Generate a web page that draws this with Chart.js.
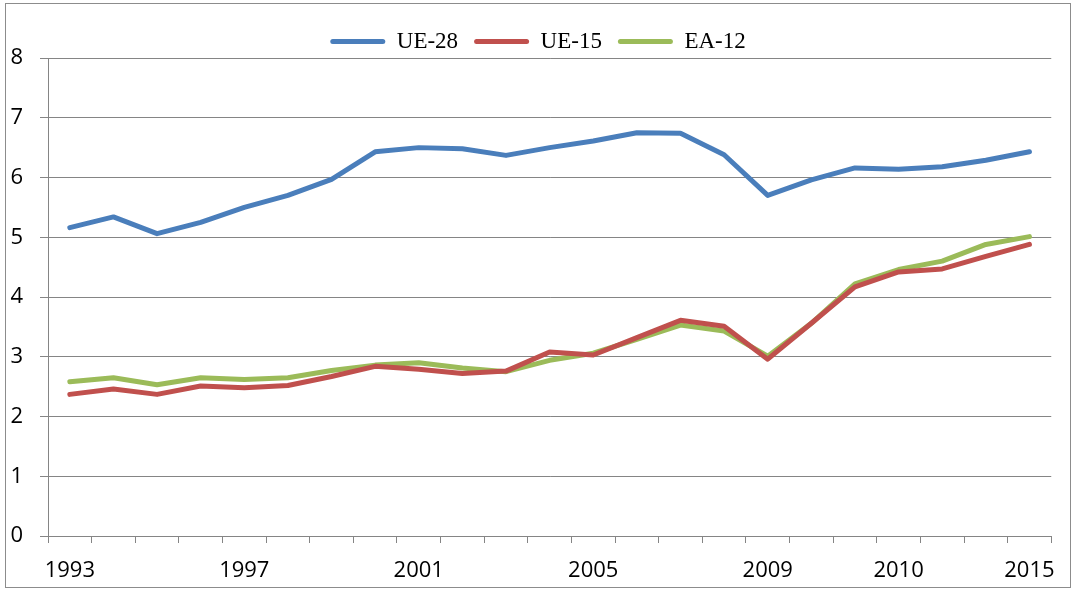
<!DOCTYPE html>
<html>
<head>
<meta charset="utf-8">
<script src="https://cdn.jsdelivr.net/npm/chart.js@4/dist/chart.umd.min.js"></script>
<style>
  html, body { margin: 0; padding: 0; background: #fff; }
  #frame {
    position: absolute; left: 5px; top: 3px;
    width: 1064px; height: 583px;
    border: 1px solid #8c8c8c;
  }
</style>
</head>
<body>
<div id="frame"><canvas id="chart" width="1064" height="583"></canvas></div>
<script>
// Category slots (one per year) and the sparse labels shown under the axis.
const categories = ['1993', '', '', '', '1997', '', '', '', '2001', '', '', '', '2005', '', '', '', '2009', '', '', '2010', '', '', '2015'];

const ue28 = [5.16, 5.34, 5.06, 5.25, 5.50, 5.70, 5.97, 6.43, 6.50, 6.48, 6.37, 6.50, 6.61, 6.75, 6.74, 6.38, 5.70, 5.96, 6.16, 6.14, 6.18, 6.29, 6.43];
const ue15 = [2.37, 2.46, 2.37, 2.51, 2.48, 2.52, 2.67, 2.84, 2.79, 2.72, 2.76, 3.08, 3.03, 3.32, 3.61, 3.51, 2.96, 3.56, 4.17, 4.42, 4.47, 4.68, 4.88];
const ea12 = [2.58, 2.65, 2.53, 2.65, 2.62, 2.65, 2.77, 2.86, 2.90, 2.81, 2.75, 2.94, 3.06, 3.29, 3.53, 3.43, 3.01, 3.56, 4.22, 4.46, 4.60, 4.88, 5.01];

const seriesNames = ['UE-28', 'UE-15', 'EA-12'];
const seriesColors = ['#4a7ebb', '#c0504d', '#9bbb59'];

const AXIS_GREY = '#858585';
const TICK_FONT = { family: '"Open Sans", sans-serif', size: 22 };

const datasets = [ue28, ue15, ea12].map((vals, i) => ({
  label: seriesNames[i],
  data: vals,
  borderColor: seriesColors[i],
  backgroundColor: seriesColors[i],
  borderWidth: 5,
  borderCapStyle: 'round',
  borderJoinStyle: 'round',
  tension: 0,
  pointRadius: 0,
  pointHoverRadius: 0,
}));

new Chart(document.getElementById('chart'), {
  type: 'line',
  data: { labels: categories, datasets },
  options: {
    responsive: false,
    animation: false,
    layout: { padding: { top: 10, right: 0, bottom: 0, left: 0 } },
    plugins: {
      tooltip: { enabled: false },
      legend: {
        position: 'top',
        maxHeight: 44,
        labels: {
          boxWidth: 55,
          boxHeight: 5,
          padding: 16,
          useBorderRadius: true,
          borderRadius: 2.5,
          color: '#000',
          font: { family: '"Liberation Serif", serif', size: 23 },
          // plain coloured bar, no stroke round it
          generateLabels: chart => Chart.defaults.plugins.legend.labels
            .generateLabels(chart).map(l => ({ ...l, lineWidth: 0 })),
        },
      },
    },
    scales: {
      x: {
        type: 'category',
        offset: true,
        afterFit: s => { s.height = 51; },
        grid: {
          offset: true,
          drawOnChartArea: false,
          drawTicks: true,
          tickLength: 7,
          color: AXIS_GREY,
        },
        border: { display: true, color: AXIS_GREY, width: 1 },
        ticks: {
          autoSkip: false,
          maxRotation: 0,
          padding: 15,
          color: '#000',
          font: TICK_FONT,
        },
      },
      y: {
        min: 0,
        max: 8,
        afterFit: s => { s.width = 42; },
        grid: { color: AXIS_GREY, lineWidth: 1, tickLength: 8 },
        border: { display: true, color: AXIS_GREY, width: 1 },
        ticks: {
          stepSize: 1,
          padding: 17,
          color: '#000',
          font: TICK_FONT,
        },
      },
      // empty right-hand strip, so the legend centres over the whole frame as in Excel
      gutter: {
        position: 'right',
        afterFit: s => { s.width = 18; },
        grid: { display: false },
        border: { display: false },
        ticks: { display: false },
      },
    },
  },
});
</script>
</body>
</html>
